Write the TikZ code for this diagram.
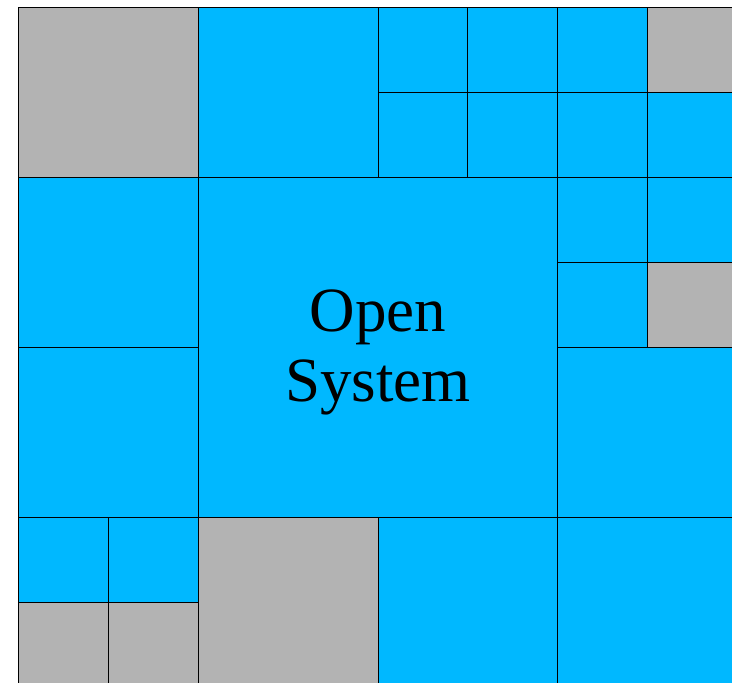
\documentclass[tikz,border=0pt]{standalone}
\usepackage{fontspec}
\setmainfont{Liberation Serif}
\definecolor{sysblue}{RGB}{0,184,255}
\definecolor{envgray}{RGB}{179,179,179}
\tikzset{
  bluecell/.style={fill=sysblue, draw=black, line width=1pt},
  graycell/.style={fill=envgray, draw=black, line width=1pt}
}
\begin{document}
\begin{tikzpicture}[x=89.75pt, y=-85pt]
        % \draw[help lines] (0,0) grid (8,8);
        \useasboundingbox (-0.2117,-0.0824) rectangle (7.9443,7.9529);
        \clip (-0.2117,-0.0824) rectangle (7.9443,7.9529);

        % big cells
        \draw[graycell] (0,0) rectangle (2,2);
        \draw[bluecell] (2,0) rectangle (4,2);
        \draw[bluecell] (0,2) rectangle (2,4);
        \draw[bluecell] (0,4) rectangle (2,6);
        \draw[bluecell] (6,4) rectangle (8,6);
        \draw[graycell] (2,6) rectangle (4,8);
        \draw[bluecell] (4,6) rectangle (6,8);
        \draw[bluecell] (6,6) rectangle (8,8);

        % small cells
        \foreach \c/\r in {4/0, 5/0, 6/0, 4/1, 5/1, 6/1, 7/1, 6/2, 7/2, 6/3, 0/6, 1/6}
          \draw[bluecell] (\c,\r) rectangle ++(1,1);
        \foreach \c/\r in {7/0, 7/3, 0/7, 1/7}
          \draw[graycell] (\c,\r) rectangle ++(1,1);

        % the system
        \draw[bluecell] (2,2) rectangle (6,6);
        \node[align=center, font=\fontsize{63}{70}\selectfont] (system) at (4,4.06) {Open\\System};
\end{tikzpicture}
\end{document}
